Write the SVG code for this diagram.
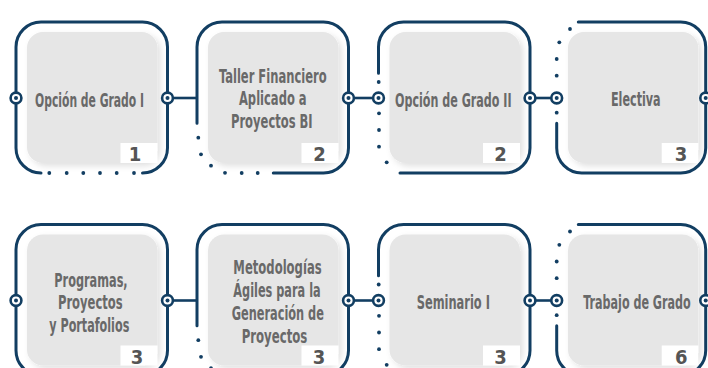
<svg xmlns="http://www.w3.org/2000/svg" width="708" height="368" viewBox="0 0 708 368">
<defs>
<filter id="sh" x="-10%" y="-10%" width="125%" height="125%">
<feDropShadow dx="3" dy="3" stdDeviation="3" flood-color="#000" flood-opacity="0.12"/>
</filter>
<g id="port"><circle r="5.4" fill="#fff" stroke="#123e62" stroke-width="2.6"/><circle r="2" fill="#123e62"/></g>
<path id="pA" d="M25,151 A25,25 0 0 1 0,126 V25 A25,25 0 0 1 25,0 H126.5 A25,25 0 0 1 151.5,25 V126 A25,25 0 0 1 126.5,151"/>
<path id="pB" d="M0,101.3 V25 A25,25 0 0 1 25,0 H126.5 A25,25 0 0 1 151.5,25 V126 A25,25 0 0 1 126.5,151 H76.3"/>
<path id="pC" d="M0,51.3 V25 A25,25 0 0 1 25,0 H126.5 A25,25 0 0 1 151.5,25 V126 A25,25 0 0 1 126.5,151 H21.5"/>
<path id="pD" d="M21.6,0 H124 A25,25 0 0 1 149,25 V126 A25,25 0 0 1 124,151 H25 A25,25 0 0 1 0,126 V101.3"/>
</defs>
<style>
.b{fill:none;stroke:#123e62;stroke-width:3;stroke-linecap:round}
.d{fill:#123e62}
.g{fill:#e6e6e6;filter:url(#sh)}
.nb{fill:#fff}
.t{font-family:"DejaVu Sans Condensed","Liberation Sans Narrow","DejaVu Sans",sans-serif;font-weight:bold;font-size:19px;fill:#696969;text-anchor:middle}
.n{font-family:"DejaVu Sans Condensed","Liberation Sans Narrow","DejaVu Sans",sans-serif;font-weight:bold;font-size:20px;fill:#555;text-anchor:middle}
.c{stroke:#123e62;stroke-width:2.6;fill:none}
</style>
<g id="connectors">
<line class="c" x1="167.5" y1="98" x2="197" y2="98"/>
<line class="c" x1="348.5" y1="98" x2="378.5" y2="98"/>
<line class="c" x1="530" y1="98" x2="556.7" y2="98"/>
<line class="c" x1="167.5" y1="300.5" x2="197" y2="300.5"/>
<line class="c" x1="348.5" y1="300.5" x2="378.5" y2="300.5"/>
<line class="c" x1="530" y1="300.5" x2="556.7" y2="300.5"/>
</g>
<g id="card1" transform="translate(16,22)">
<use href="#pA" class="b"/>
<g class="d"><circle cx="33.3" cy="151" r="1.9"/><circle cx="50.7" cy="151" r="1.9"/><circle cx="67.3" cy="151" r="1.9"/><circle cx="84" cy="151" r="1.9"/><circle cx="100.7" cy="151" r="1.9"/><circle cx="118" cy="151" r="1.9"/></g>
<rect class="g" x="11" y="10" width="130.5" height="131" rx="16"/>
<rect class="nb" x="104.5" y="121" width="37" height="20"/>
<text class="t" x="73.5" y="84.5" textLength="109" lengthAdjust="spacingAndGlyphs">Opción de Grado I</text>
<text class="n" x="119" y="139">1</text>
<use href="#port" x="0" y="76"/><use href="#port" x="151.5" y="76"/>
</g>
<g id="card2" transform="translate(197,22)">
<use href="#pB" class="b"/>
<g class="d"><circle cx="1.3" cy="115.7" r="1.9"/><circle cx="4" cy="132.3" r="1.9"/><circle cx="14" cy="143.7" r="1.9"/><circle cx="28" cy="150.8" r="1.9"/><circle cx="44.7" cy="151" r="1.9"/><circle cx="60.7" cy="151" r="1.9"/></g>
<rect class="g" x="11" y="10" width="130.5" height="131" rx="16"/>
<rect class="nb" x="104.5" y="121" width="37" height="20"/>
<text class="t" x="75.8" y="60.7" textLength="107.7" lengthAdjust="spacingAndGlyphs">Taller Financiero</text>
<text class="t" x="75.8" y="83" textLength="67.7" lengthAdjust="spacingAndGlyphs">Aplicado a</text>
<text class="t" x="74.8" y="105.5" textLength="81.7" lengthAdjust="spacingAndGlyphs">Proyectos BI</text>
<text class="n" x="122.5" y="139">2</text>
<use href="#port" x="151.5" y="76"/>
</g>
<g id="card3" transform="translate(378.5,22)">
<use href="#pC" class="b"/>
<g class="d"><circle cx="0.2" cy="60" r="1.9"/><circle cx="0.5" cy="91.3" r="1.9"/><circle cx="0.5" cy="108" r="1.9"/><circle cx="0.5" cy="124.7" r="1.9"/><circle cx="8.2" cy="140.3" r="1.9"/></g>
<rect class="g" x="11" y="10" width="130.5" height="131" rx="16"/>
<rect class="nb" x="104.5" y="121" width="37" height="20"/>
<text class="t" x="74.8" y="85" textLength="116.7" lengthAdjust="spacingAndGlyphs">Opción de Grado II</text>
<text class="n" x="122" y="139">2</text>
<use href="#port" x="0" y="76"/><use href="#port" x="151.5" y="76"/>
</g>
<g id="card4" transform="translate(556.7,22)">
<use href="#pD" class="b"/>
<g class="d"><circle cx="13.3" cy="7" r="1.9"/><circle cx="2.6" cy="20.3" r="1.9"/><circle cx="0" cy="37" r="1.9"/><circle cx="0" cy="53.7" r="1.9"/><circle cx="0" cy="90.7" r="1.9"/></g>
<rect class="g" x="11.3" y="10" width="130.3" height="131" rx="16"/>
<rect class="nb" x="105" y="121" width="36.6" height="20"/>
<text class="t" transform="translate(79.1,84) scale(0.7,1)" x="0" y="0" textLength="71" lengthAdjust="spacingAndGlyphs">Electiva</text>
<text class="n" x="124.3" y="139">3</text>
<use href="#port" x="0" y="76"/><use href="#port" x="149" y="76"/>
</g>
<g id="card5" transform="translate(16,224.5)">
<rect class="b" x="0" y="0" width="151.5" height="151" rx="25"/>
<rect class="g" x="11" y="10" width="130.5" height="131" rx="16"/>
<rect class="nb" x="104.5" y="121" width="37" height="20"/>
<text class="t" x="75" y="62.2" textLength="73.3" lengthAdjust="spacingAndGlyphs">Programas,</text>
<text class="t" x="74.3" y="84.8" textLength="64.7" lengthAdjust="spacingAndGlyphs">Proyectos</text>
<text class="t" x="73.3" y="107.2" textLength="80" lengthAdjust="spacingAndGlyphs">y Portafolios</text>
<text class="n" x="121" y="139">3</text>
<use href="#port" x="0" y="76"/><use href="#port" x="151.5" y="76"/>
</g>
<g id="card6" transform="translate(197,224.5)">
<use href="#pB" class="b"/>
<g class="d"><circle cx="1.3" cy="115.7" r="1.9"/><circle cx="4" cy="132.3" r="1.9"/><circle cx="14" cy="143.7" r="1.9"/><circle cx="28" cy="150.8" r="1.9"/><circle cx="44.7" cy="151" r="1.9"/><circle cx="60.7" cy="151" r="1.9"/></g>
<rect class="g" x="11" y="10" width="130.5" height="131" rx="16"/>
<rect class="nb" x="104.5" y="121" width="37" height="20"/>
<text class="t" x="80.5" y="49.8" textLength="88.3" lengthAdjust="spacingAndGlyphs">Metodologías</text>
<text class="t" x="80" y="72.2" textLength="87.3" lengthAdjust="spacingAndGlyphs">Ágiles para la</text>
<text class="t" x="80.8" y="95.5" textLength="92.3" lengthAdjust="spacingAndGlyphs">Generación de</text>
<text class="t" x="77.5" y="118.2" textLength="65.7" lengthAdjust="spacingAndGlyphs">Proyectos</text>
<text class="n" x="122" y="139">3</text>
<use href="#port" x="151.5" y="76"/>
</g>
<g id="card7" transform="translate(378.5,224.5)">
<use href="#pC" class="b"/>
<g class="d"><circle cx="0.2" cy="60" r="1.9"/><circle cx="0.5" cy="91.3" r="1.9"/><circle cx="0.5" cy="108" r="1.9"/><circle cx="0.5" cy="124.7" r="1.9"/><circle cx="8.2" cy="140.3" r="1.9"/></g>
<rect class="g" x="11" y="10" width="130.5" height="131" rx="16"/>
<rect class="nb" x="104.5" y="121" width="37" height="20"/>
<text class="t" x="74.8" y="84.5" textLength="73.3" lengthAdjust="spacingAndGlyphs">Seminario I</text>
<text class="n" x="122" y="139">3</text>
<use href="#port" x="0" y="76"/><use href="#port" x="151.5" y="76"/>
</g>
<g id="card8" transform="translate(556.7,224.5)">
<use href="#pD" class="b"/>
<g class="d"><circle cx="13.3" cy="7" r="1.9"/><circle cx="2.6" cy="20.3" r="1.9"/><circle cx="0" cy="37" r="1.9"/><circle cx="0" cy="53.7" r="1.9"/><circle cx="0" cy="90.7" r="1.9"/></g>
<rect class="g" x="11.3" y="10" width="130.3" height="131" rx="16"/>
<rect class="nb" x="105" y="121" width="36.6" height="20"/>
<text class="t" transform="translate(80.3,84.5) scale(0.64,1)" x="0" y="0" textLength="167.7" lengthAdjust="spacingAndGlyphs">Trabajo de Grado</text>
<text class="n" x="124.6" y="139">6</text>
<use href="#port" x="0" y="76"/><use href="#port" x="149" y="76"/>
</g>
</svg>
